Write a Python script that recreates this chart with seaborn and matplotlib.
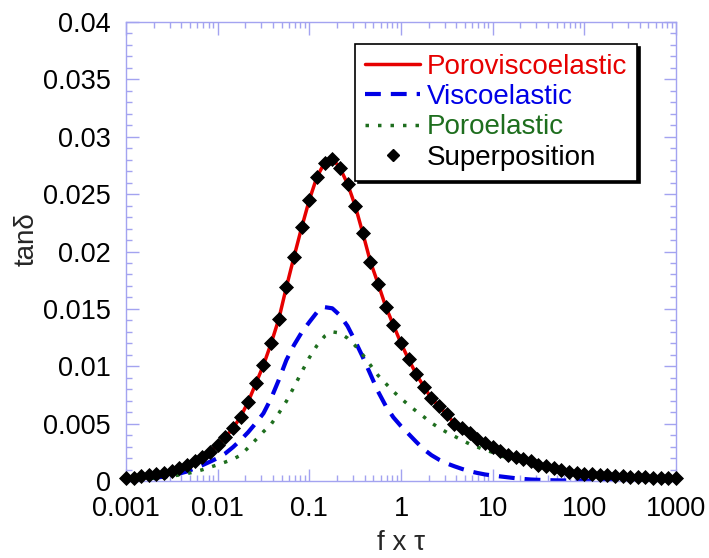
import matplotlib
matplotlib.use("Agg")
import matplotlib.pyplot as plt
from matplotlib.ticker import FixedLocator, FixedFormatter, LogLocator, MultipleLocator, NullFormatter
from matplotlib.lines import Line2D
import seaborn as sns
import pandas as pd

# ---- data ----
fx = [0.001, 0.00121, 0.00147, 0.00178, 0.00215, 0.00261, 0.00316, 0.00383, 0.00464, 0.00562, 0.00681, 0.00825,
      0.01, 0.0121, 0.0147, 0.0178, 0.0215, 0.0261, 0.0316, 0.0383, 0.0464, 0.0562, 0.0681, 0.0825,
      0.1, 0.121, 0.147, 0.178, 0.215, 0.261, 0.316, 0.383, 0.464, 0.562, 0.681, 0.825,
      1.0, 1.21, 1.47, 1.78, 2.15, 2.61, 3.16, 3.83, 4.64, 5.62, 6.81, 8.25,
      10.0, 12.1, 14.7, 17.8, 21.5, 26.1, 31.6, 38.3, 46.4, 56.2, 68.1, 82.5,
      100.0, 121.0, 147.0, 178.0, 215.0, 261.0, 316.0, 383.0, 464.0, 562.0, 681.0, 825.0,
      1000.0]

poroviscoelastic = [0.00022, 0.00030, 0.00040, 0.00050, 0.00060, 0.00072, 0.00090, 0.00112, 0.00138, 0.00170, 0.00210, 0.00255,
                    0.00310, 0.00380, 0.00460, 0.00560, 0.00690, 0.00850, 0.01010, 0.01200, 0.01410, 0.01690, 0.01955, 0.02210,
                    0.02450, 0.02650, 0.02775, 0.02810, 0.02730, 0.02590, 0.02400, 0.02160, 0.01910, 0.01720, 0.01520, 0.01360,
                    0.01200, 0.01060, 0.00930, 0.00820, 0.00720, 0.00650, 0.00580, 0.00500, 0.00460, 0.00415, 0.00370, 0.00330,
                    0.00300, 0.00262, 0.00230, 0.00210, 0.00190, 0.00170, 0.00142, 0.00128, 0.00110, 0.00095, 0.00082, 0.00072,
                    0.00064, 0.00058, 0.00053, 0.00048, 0.00044, 0.00040, 0.00037, 0.00034, 0.00031, 0.00028, 0.00026, 0.00024,
                    0.00022]

viscoelastic = [0.00012, 0.00015, 0.00019, 0.00024, 0.00030, 0.00038, 0.00050, 0.00065, 0.00083, 0.00110, 0.00138, 0.00168,
                0.00200, 0.00240, 0.00295, 0.00357, 0.00425, 0.00505, 0.00590, 0.00720, 0.00880, 0.01054, 0.01185, 0.01295,
                0.01385, 0.01470, 0.01515, 0.01505, 0.01445, 0.01350, 0.01220, 0.01080, 0.00930, 0.00780, 0.00655, 0.00555,
                0.00478, 0.00410, 0.00340, 0.00275, 0.00225, 0.00185, 0.00153, 0.00128, 0.00105, 0.00085, 0.00070, 0.00057,
                0.00048, 0.00040, 0.00032, 0.00024, 0.00018, 0.00013, 0.00010, 0.00008, 0.00006, 0.00005, 0.00004, 0.00004,
                0.00003, 0.00003, 0.00002, 0.00002, 0.00002, 0.00002, 0.00001, 0.00001, 0.00001, 0.00001, 0.00001, 0.00001,
                0.00001]

poroelastic = [0.00010, 0.00013, 0.00017, 0.00022, 0.00027, 0.00034, 0.00043, 0.00053, 0.00065, 0.00080, 0.00098, 0.00120,
               0.00142, 0.00165, 0.00190, 0.00225, 0.00290, 0.00360, 0.00430, 0.00495, 0.00590, 0.00695, 0.00820, 0.00950,
               0.01075, 0.01180, 0.01262, 0.01300, 0.01290, 0.01245, 0.01180, 0.01100, 0.01010, 0.00920, 0.00850, 0.00780,
               0.00720, 0.00662, 0.00608, 0.00558, 0.00506, 0.00462, 0.00424, 0.00390, 0.00355, 0.00322, 0.00296, 0.00270,
               0.00250, 0.00222, 0.00200, 0.00185, 0.00172, 0.00157, 0.00132, 0.00120, 0.00104, 0.00090, 0.00078, 0.00068,
               0.00061, 0.00055, 0.00051, 0.00046, 0.00042, 0.00038, 0.00036, 0.00033, 0.00030, 0.00027, 0.00025, 0.00023,
               0.00021]

superposition = list(poroviscoelastic)

series_names = ["Poroviscoelastic", "Viscoelastic", "Poroelastic", "Superposition"]
series_colors = ["#e60000", "#0000e6", "#1e6e1e", "#000000"]

xticks = [0.001, 0.01, 0.1, 1, 10, 100, 1000]
xtick_labels = ["0.001", "0.01", "0.1", "1", "10", "100", "1000"]
yticks = [0, 0.005, 0.01, 0.015, 0.02, 0.025, 0.03, 0.035, 0.04]
ytick_labels = ["0", "0.005", "0.01", "0.015", "0.02", "0.025", "0.03", "0.035", "0.04"]

# ---- style ----
sns.set_theme(style="white")
plt.rcParams["font.family"] = ["Liberation Sans", "DejaVu Sans"]

df = pd.DataFrame({"fx": fx, "pve": poroviscoelastic, "ve": viscoelastic,
                   "pe": poroelastic, "sup": superposition})

fig = plt.figure(figsize=(7.09, 5.58), dpi=100)
ax = fig.add_axes([126 / 709, 1 - 481 / 558, 550 / 709, 459 / 558])

blue_ls = (0, (3.8, 2.4))
green_ls = (0, (1.0, 2.6))

sns.lineplot(data=df, x="fx", y="pve", ax=ax, color=series_colors[0], lw=2.5, zorder=3)
sns.lineplot(data=df, x="fx", y="ve", ax=ax, color=series_colors[1], lw=3.0,
             linestyle=blue_ls, zorder=2)
sns.lineplot(data=df, x="fx", y="pe", ax=ax, color=series_colors[2], lw=2.5,
             linestyle=green_ls, zorder=2)
sns.scatterplot(data=df, x="fx", y="sup", ax=ax, color=series_colors[3], marker="D",
                s=50, edgecolor="black", linewidth=0.6, zorder=4, clip_on=False)

ax.set_xscale("log")
ax.set_xlim(0.001, 1000)
ax.set_ylim(0, 0.04)

frame_col = "#a3a3f0"
for sp in ax.spines.values():
    sp.set_color(frame_col)
    sp.set_linewidth(1.0)

ax.xaxis.set_major_locator(FixedLocator(xticks))
ax.xaxis.set_major_formatter(FixedFormatter(xtick_labels))
ax.xaxis.set_minor_locator(LogLocator(base=10, subs=range(2, 10), numticks=20))
ax.xaxis.set_minor_formatter(NullFormatter())
ax.yaxis.set_major_locator(FixedLocator(yticks))
ax.yaxis.set_major_formatter(FixedFormatter(ytick_labels))
ax.yaxis.set_minor_locator(MultipleLocator(0.001))

ax.tick_params(which="both", direction="in", top=True, right=True, color=frame_col, width=1.0,
               bottom=True, left=True)
ax.tick_params(which="major", length=9)
ax.tick_params(which="minor", length=4.5)
ax.tick_params(axis="x", which="major", labelsize=19.5, pad=11, labelcolor="black")
ax.tick_params(axis="y", which="major", labelsize=19.5, pad=11, labelcolor="black")

ax.set_xlabel("f x τ", fontsize=20)
ax.set_ylabel("tanδ", fontsize=20)
ax.xaxis.set_label_coords(0.5, -0.106)
ax.yaxis.set_label_coords(-0.157, 0.527)

handles = [
    Line2D([], [], color=series_colors[0], lw=2.5),
    Line2D([], [], color=series_colors[1], lw=3.0, linestyle=blue_ls),
    Line2D([], [], color=series_colors[2], lw=2.5, linestyle=green_ls),
    Line2D([], [], color=series_colors[3], marker="D", ms=6.5, lw=0),
]
leg = ax.legend(handles, series_names, loc="upper right", bbox_to_anchor=(0.929, 0.952),
                borderaxespad=0, fontsize=20, frameon=True, fancybox=False,
                shadow={"color": "black", "alpha": 1.0}, handlelength=2.0,
                handletextpad=0.22, labelspacing=0.15, borderpad=0.36)
leg.get_frame().set_edgecolor("black")
leg.get_frame().set_linewidth(1.2)
for txt, c in zip(leg.get_texts(), series_colors):
    txt.set_color(c)

fig.savefig("out.png", dpi=100)
